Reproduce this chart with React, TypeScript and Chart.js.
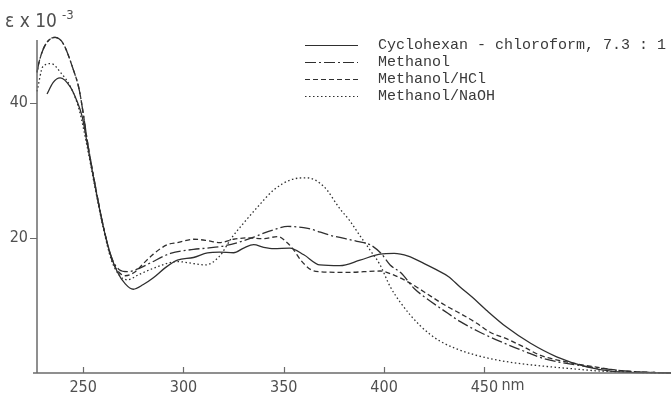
import React, { useEffect, useRef } from "react";
import { Chart, registerables } from "chart.js";

Chart.register(...registerables);

// ---- data (wavelength in nm, epsilon x 10^-3) ----
const cycloWl = [232, 235, 238.5, 243.5, 247, 249.5, 252, 256, 260, 263.5, 267, 271, 275, 280, 285, 291, 297, 305, 312, 318, 325, 330, 335, 340, 345, 353, 360, 368, 378, 388, 398, 405, 412, 420, 426, 432, 438, 444, 451, 461, 473, 486, 501, 515, 530, 543];
const cycloEps = [41.3, 43.0, 43.7, 42.4, 40.2, 38.0, 34.0, 27.6, 21.7, 17.7, 15.0, 13.2, 12.4, 13.1, 14.1, 15.6, 16.7, 17.1, 17.8, 17.9, 17.8, 18.5, 19.0, 18.6, 18.4, 18.5, 17.5, 16.0, 15.9, 16.7, 17.6, 17.7, 17.3, 16.2, 15.3, 14.3, 12.7, 11.2, 9.3, 6.8, 4.4, 2.4, 0.9, 0.2, 0.05, 0];

const methWl = [227, 228, 231, 236, 240, 245, 248, 250, 252, 256, 260, 264, 268, 272, 278, 283.5, 293.5, 305, 312, 320, 328, 335, 340, 345, 352, 362, 373, 386.5, 393, 398.5, 403, 408.5, 415, 420, 430, 438, 448, 460, 470, 480, 498, 520, 543];
const methEps = [44.5, 46.0, 48.5, 49.7, 48.8, 45.0, 42.0, 38.5, 34.5, 27.8, 21.8, 17.2, 15.3, 15.0, 15.5, 16.3, 17.7, 18.3, 18.5, 18.8, 19.4, 20.1, 20.7, 21.2, 21.7, 21.4, 20.4, 19.5, 19.0, 17.7, 16.0, 14.8, 12.5, 11.3, 9.2, 7.6, 6.0, 4.4, 3.2, 2.1, 1.1, 0.3, 0];

const hclWl = [227, 228, 231, 236, 240, 245, 248, 250, 252, 256, 260, 264, 267, 271, 276, 280, 285, 292, 297, 305, 312, 318, 325, 332, 340, 347, 352, 355, 358.5, 363.5, 368, 382, 398, 404, 413, 420, 430, 438, 446, 453, 460, 470, 478, 490, 505, 520, 543];
const hclEps = [44.5, 46.0, 48.5, 49.7, 48.8, 45.0, 42.0, 38.5, 34.5, 27.8, 21.8, 17.0, 15.2, 14.4, 15.0, 16.2, 17.6, 19.0, 19.3, 19.8, 19.6, 19.3, 19.8, 20.0, 19.9, 20.2, 19.2, 18.2, 16.7, 15.3, 15.0, 14.9, 15.1, 14.6, 13.3, 12.0, 10.1, 8.8, 7.4, 6.0, 5.2, 3.8, 2.6, 1.7, 0.9, 0.3, 0];

const naohWl = [227, 230, 234, 239, 244, 248, 252, 256, 260, 264, 268, 272, 278, 285, 297, 305, 311, 318, 324, 330, 337, 345, 353.5, 361.5, 370, 378, 383, 388, 393, 398, 403, 408, 413, 418, 423, 428, 435, 445, 455, 465, 480, 495, 507, 525, 543];
const naohEps = [41.7, 45.4, 45.8, 44.4, 42.2, 39.0, 33.5, 27.3, 21.5, 16.8, 14.5, 13.8, 14.6, 15.5, 16.5, 16.2, 16.0, 17.3, 20.0, 22.2, 24.6, 27.1, 28.6, 28.9, 27.6, 24.3, 22.5, 20.3, 18.2, 16.0, 12.8, 10.5, 8.6, 7.0, 5.7, 4.7, 3.7, 2.7, 2.0, 1.5, 1.0, 0.6, 0.3, 0.1, 0];

const seriesLabels = ["Cyclohexan - chloroform, 7.3 : 1", "Methanol", "Methanol/HCl", "Methanol/NaOH"];
const xTicks = [250, 300, 350, 400, 450];
const yTicks = [20, 40];
const xUnit = "nm";
const yTitle = "ε x 10";
const yTitleExp = "-3";

// ---- styles ----
const INK = "#2f2f2f";
const AXIS = "#6b6b6b";
const TEXT = "#505050";
const DASHES = [[], [11, 3, 2, 3], [5, 3], [1.5, 2.5]];
const NUM_FONT = "'Liberation Sans Narrow', 'DejaVu Sans Condensed', 'Liberation Sans', sans-serif";
const MONO_FONT = "'Liberation Mono', 'DejaVu Sans Mono', monospace";

const toPoints = (xs: number[], ys: number[]) => xs.map((x, i) => ({ x, y: ys[i] }));

const decor = {
  id: "decor",
  afterDraw(chart: any) {
    const { ctx, chartArea, scales } = chart;
    const xs = scales.x;
    const ys = scales.y;
    const left = chartArea.left;
    const bottom = chartArea.bottom;
    ctx.save();
    // axes
    ctx.strokeStyle = AXIS;
    ctx.lineWidth = 1.5;
    ctx.setLineDash([]);
    ctx.beginPath();
    ctx.moveTo(left, chartArea.top);
    ctx.lineTo(left, bottom);
    ctx.moveTo(left - 4, bottom);
    ctx.lineTo(chartArea.right, bottom);
    ctx.stroke();
    // tick marks
    ctx.lineWidth = 1.2;
    ctx.beginPath();
    yTicks.forEach((v) => {
      const py = Math.round(ys.getPixelForValue(v)) + 0.5;
      ctx.moveTo(left - 7, py);
      ctx.lineTo(left, py);
    });
    xTicks.forEach((v) => {
      const px = Math.round(xs.getPixelForValue(v)) + 0.5;
      ctx.moveTo(px, bottom);
      ctx.lineTo(px, bottom - 6);
    });
    ctx.stroke();
    // unit label
    ctx.fillStyle = TEXT;
    ctx.font = `16px ${NUM_FONT}`;
    ctx.textAlign = "left";
    ctx.textBaseline = "top";
    ctx.fillText(xUnit, xs.getPixelForValue(xTicks[xTicks.length - 1]) + 17, bottom + 5);
    // y title
    ctx.textBaseline = "alphabetic";
    ctx.font = `19px ${NUM_FONT}`;
    ctx.fillText(yTitle, 5, 27);
    const w = ctx.measureText(yTitle).width;
    ctx.font = `13px ${NUM_FONT}`;
    ctx.fillText(yTitleExp, 5 + w + 5, 19);
    // legend
    const rows = [45, 62, 79, 96];
    seriesLabels.forEach((label, i) => {
      const y = rows[i];
      ctx.strokeStyle = INK;
      ctx.lineWidth = 1.2;
      ctx.setLineDash(DASHES[i]);
      ctx.beginPath();
      ctx.moveTo(305, y + 0.5);
      ctx.lineTo(358, y + 0.5);
      ctx.stroke();
      ctx.setLineDash([]);
      ctx.fillStyle = "#3a3a3a";
      ctx.font = `15px ${MONO_FONT}`;
      ctx.textBaseline = "middle";
      ctx.fillText(label, 378, y);
    });
    ctx.restore();
  },
};

export default function App() {
  const ref = useRef<HTMLCanvasElement | null>(null);

  useEffect(() => {
    if (!ref.current) return;
    const data = [
      toPoints(cycloWl, cycloEps),
      toPoints(methWl, methEps),
      toPoints(hclWl, hclEps),
      toPoints(naohWl, naohEps),
    ];
    const chart = new Chart(ref.current, {
      type: "line",
      data: {
        datasets: data.map((pts, i) => ({
          label: seriesLabels[i],
          data: pts,
          borderColor: INK,
          borderWidth: 1.3,
          borderDash: DASHES[i],
          pointRadius: 0,
          fill: false,
          cubicInterpolationMode: "monotone" as const,
          clip: false as any,
        })),
      },
      options: {
        responsive: false,
        animation: false,
        parsing: false as any,
        layout: { padding: { top: 40, left: 0, right: 0, bottom: 0 } },
        plugins: {
          legend: { display: false },
          tooltip: { enabled: false },
        },
        scales: {
          x: {
            type: "linear",
            min: 227,
            max: 543,
            grid: { display: false, drawTicks: false },
            border: { display: false },
            afterBuildTicks: (s: any) => {
              s.ticks = xTicks.map((v) => ({ value: v }));
            },
            afterFit: (s: any) => {
              s.height = 22;
            },
            ticks: {
              padding: 5,
              color: TEXT,
              font: { family: NUM_FONT, size: 16 },
              maxRotation: 0,
              autoSkip: false,
            },
          },
          y: {
            type: "linear",
            min: 0,
            max: 49.3,
            grid: { display: false, drawTicks: false },
            border: { display: false },
            afterBuildTicks: (s: any) => {
              s.ticks = yTicks.map((v) => ({ value: v }));
            },
            afterFit: (s: any) => {
              s.width = 37;
            },
            ticks: {
              padding: 9,
              color: TEXT,
              font: { family: NUM_FONT, size: 16 },
            },
          },
        },
      },
      plugins: [decor],
    });
    return () => chart.destroy();
  }, []);

  return (
    <div style={{ position: "fixed", left: 0, top: 0, width: 671, height: 395, background: "#fff" }}>
      <canvas ref={ref} width={671} height={395} style={{ display: "block" }} />
    </div>
  );
}
